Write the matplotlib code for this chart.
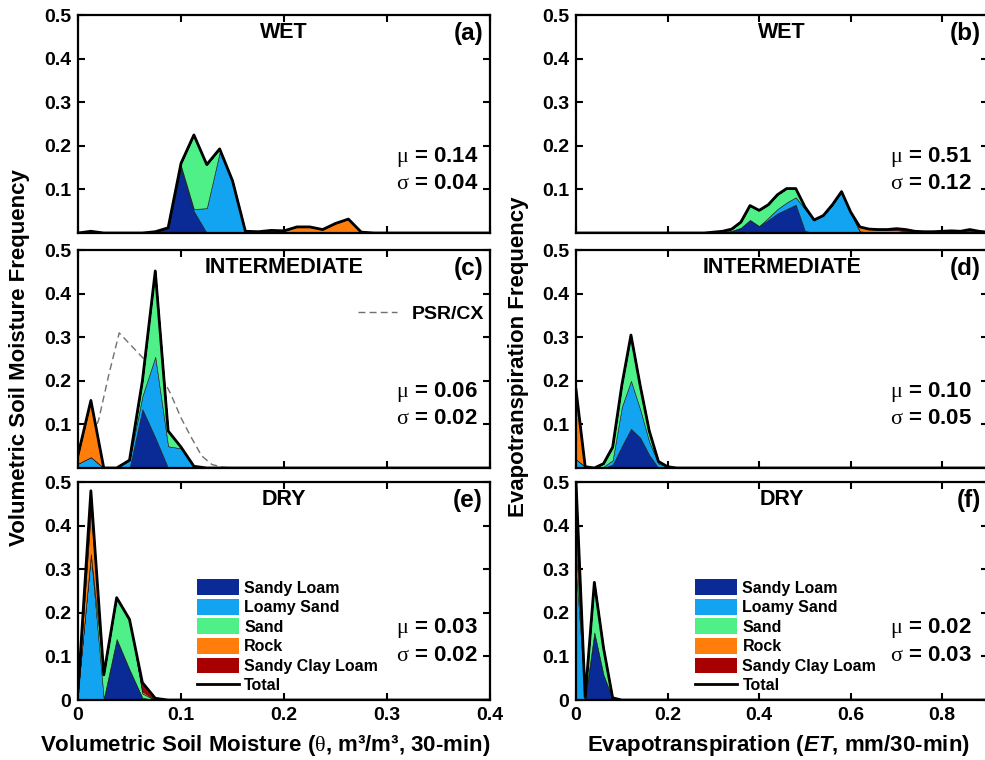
import numpy as np
import matplotlib
matplotlib.use('Agg')
import matplotlib.pyplot as plt
from matplotlib.patches import Patch
from matplotlib.lines import Line2D

plt.rcParams['font.family'] = 'Liberation Sans'
plt.rcParams['font.weight'] = 'bold'
plt.rcParams['mathtext.fontset'] = 'custom'
plt.rcParams['mathtext.rm'] = 'Liberation Serif:weight=normal'
plt.rcParams['mathtext.it'] = 'Liberation Sans:italic:bold'

soils = ['Sandy Loam', 'Loamy Sand', 'Sand', 'Rock', 'Sandy Clay Loam']
soil_colors = ['#0a2a96', '#12a4f0', '#4ef087', '#ff7d0a', '#a80000']

# soil moisture bins (0 - 0.4, step 0.0125) and ET bins (0 - 0.9, step 0.02)
theta_bins = np.round(np.arange(33) * 0.0125, 4)
et_bins = np.round(np.arange(46) * 0.02, 3)

# (a) WET, soil moisture
a_sl   = [0, 0, 0, 0, 0, 0, 0.003, 0.012, 0.15, 0.05, 0, 0, 0, 0, 0, 0, 0, 0, 0, 0, 0, 0, 0, 0, 0, 0, 0, 0, 0, 0, 0, 0, 0]
a_ls   = [0, 0, 0, 0, 0, 0, 0, 0, 0.004, 0.005, 0.057, 0.185, 0.12, 0.004, 0, 0, 0, 0, 0, 0, 0, 0, 0, 0, 0, 0, 0, 0, 0, 0, 0, 0, 0]
a_sand = [0, 0, 0, 0, 0, 0, 0, 0, 0.006, 0.17, 0.1, 0.008, 0, 0, 0, 0, 0, 0, 0, 0, 0, 0, 0, 0, 0, 0, 0, 0, 0, 0, 0, 0, 0]
a_rock = [0, 0, 0, 0, 0, 0, 0, 0, 0, 0, 0, 0, 0, 0, 0.003, 0.006, 0.005, 0.014, 0.014, 0.008, 0.022, 0.032, 0.002, 0, 0, 0, 0, 0, 0, 0, 0, 0, 0]
a_scl  = [0, 0.004, 0, 0, 0, 0, 0, 0, 0, 0, 0, 0, 0, 0, 0, 0, 0, 0, 0, 0, 0, 0, 0, 0, 0, 0, 0, 0, 0, 0, 0, 0, 0]

# (c) INTERMEDIATE, soil moisture
c_sl   = [0, 0, 0, 0, 0, 0.135, 0.07, 0, 0, 0, 0, 0, 0, 0, 0, 0, 0, 0, 0, 0, 0, 0, 0, 0, 0, 0, 0, 0, 0, 0, 0, 0, 0]
c_ls   = [0.01, 0.025, 0, 0, 0.018, 0.03, 0.185, 0.05, 0.045, 0.004, 0, 0, 0, 0, 0, 0, 0, 0, 0, 0, 0, 0, 0, 0, 0, 0, 0, 0, 0, 0, 0, 0, 0]
c_sand = [0, 0, 0, 0, 0, 0.035, 0.197, 0.035, 0.003, 0, 0, 0, 0, 0, 0, 0, 0, 0, 0, 0, 0, 0, 0, 0, 0, 0, 0, 0, 0, 0, 0, 0, 0]
c_rock = [0.02, 0.13, 0, 0, 0, 0, 0, 0, 0, 0, 0, 0, 0, 0, 0, 0, 0, 0, 0, 0, 0, 0, 0, 0, 0, 0, 0, 0, 0, 0, 0, 0, 0]
c_scl  = [0] * 33

# PSR/CX reference curve in (c)
psr_x = [0, 0.01, 0.02, 0.03, 0.04, 0.05, 0.06, 0.07, 0.08, 0.09, 0.10, 0.11, 0.12, 0.13, 0.14, 0.15]
psr_y = [0.01, 0.045, 0.11, 0.215, 0.31, 0.285, 0.26, 0.235, 0.215, 0.17, 0.115, 0.07, 0.028, 0.008, 0.002, 0.0]

# (e) DRY, soil moisture
e_sl   = [0, 0, 0, 0.14, 0.07, 0.005, 0, 0, 0, 0, 0, 0, 0, 0, 0, 0, 0, 0, 0, 0, 0, 0, 0, 0, 0, 0, 0, 0, 0, 0, 0, 0, 0]
e_ls   = [0.02, 0.335, 0.003, 0, 0, 0, 0, 0, 0, 0, 0, 0, 0, 0, 0, 0, 0, 0, 0, 0, 0, 0, 0, 0, 0, 0, 0, 0, 0, 0, 0, 0, 0]
e_sand = [0, 0, 0.055, 0.095, 0.115, 0.01, 0, 0, 0, 0, 0, 0, 0, 0, 0, 0, 0, 0, 0, 0, 0, 0, 0, 0, 0, 0, 0, 0, 0, 0, 0, 0, 0]
e_rock = [0, 0.1, 0, 0, 0, 0.005, 0, 0, 0, 0, 0, 0, 0, 0, 0, 0, 0, 0, 0, 0, 0, 0, 0, 0, 0, 0, 0, 0, 0, 0, 0, 0, 0]
e_scl  = [0, 0.045, 0, 0, 0, 0.02, 0.004, 0, 0, 0, 0, 0, 0, 0, 0, 0, 0, 0, 0, 0, 0, 0, 0, 0, 0, 0, 0, 0, 0, 0, 0, 0, 0]

# (b) WET, ET
b_sl   = [0] * 15 + [0.002, 0.003, 0.005, 0.012, 0.03, 0.016, 0.03, 0.045, 0.055, 0.065, 0.005] + [0] * 20
b_ls   = [0] * 21 + [0.005, 0.01, 0.015, 0.017, 0.05, 0.03, 0.04, 0.065, 0.095, 0.045, 0.004, 0.001] + [0] * 13
b_sand = [0] * 16 + [0.001, 0.004, 0.013, 0.033, 0.036, 0.03, 0.033, 0.032, 0.02, 0.005] + [0] * 20
b_rock = [0] * 30 + [0.003, 0.01, 0.008, 0.008, 0.007, 0.007, 0.004] + [0] * 9
b_scl  = [0] * 34 + [0.001, 0.003, 0.004, 0.004, 0.003, 0.003, 0.004, 0.005, 0.004, 0.008, 0.004, 0.002]

# (d) INTERMEDIATE, ET
d_sl   = [0, 0, 0, 0, 0.008, 0.05, 0.09, 0.07, 0.03, 0, 0] + [0] * 35
d_ls   = [0.02, 0.003, 0, 0.003, 0.01, 0.09, 0.11, 0.065, 0.03, 0.01, 0.003] + [0] * 35
d_sand = [0, 0, 0, 0.007, 0.03, 0.05, 0.105, 0.055, 0.025, 0.005, 0] + [0] * 35
d_rock = [0.15] + [0] * 45
d_scl  = [0.01] + [0] * 45

# (f) DRY, ET
f_sl   = [0, 0, 0.155, 0.058, 0.003] + [0] * 41
f_ls   = [0.3, 0.006, 0, 0, 0] + [0] * 41
f_sand = [0.05, 0, 0.115, 0.062, 0.002] + [0] * 41
f_rock = [0.05] + [0] * 45
f_scl  = [0.1] + [0] * 45

panels = [
    ('WET', '(a)', theta_bins, [a_sl, a_ls, a_sand, a_rock, a_scl], '0.14', '0.04'),
    ('WET', '(b)', et_bins, [b_sl, b_ls, b_sand, b_rock, b_scl], '0.51', '0.12'),
    ('INTERMEDIATE', '(c)', theta_bins, [c_sl, c_ls, c_sand, c_rock, c_scl], '0.06', '0.02'),
    ('INTERMEDIATE', '(d)', et_bins, [d_sl, d_ls, d_sand, d_rock, d_scl], '0.10', '0.05'),
    ('DRY', '(e)', theta_bins, [e_sl, e_ls, e_sand, e_rock, e_scl], '0.03', '0.02'),
    ('DRY', '(f)', et_bins, [f_sl, f_ls, f_sand, f_rock, f_scl], '0.02', '0.03'),
]

fig = plt.figure(figsize=(9.85, 7.6), dpi=100)

col_left = [0.0792, 0.5848]
row_bottom = [0.6934, 0.3842, 0.0789]
w, h = 0.4183, 0.2868

for k, (cond, tag, x, layers, mu, sig) in enumerate(panels):
    row, col = k // 2, k % 2
    ax = fig.add_axes([col_left[col], row_bottom[row], w, h])

    ax.stackplot(x, *layers, colors=soil_colors, edgecolor='#1a1a1a', linewidth=0.4, zorder=2)
    total = np.sum(np.array(layers), axis=0)
    ax.plot(x, total, color='k', lw=2.0, zorder=3)

    if tag == '(c)':
        ax.plot(psr_x, psr_y, color='#707070', lw=1.0, dashes=(5, 3), zorder=1)
        ax.legend(handles=[Line2D([], [], color='#707070', lw=1.0, dashes=(5, 3))],
                  labels=['PSR/CX'], loc='upper right', bbox_to_anchor=(1.01, 0.79),
                  frameon=False, handlelength=2.0, handletextpad=0.8, borderpad=0,
                  prop={'weight': 'bold', 'size': 14})

    if col == 0:
        ax.set_xlim(0, 0.4)
        ax.set_xticks([0, 0.1, 0.2, 0.3, 0.4])
        ax.set_xticklabels(['0', '0.1', '0.2', '0.3', '0.4'])
    else:
        ax.set_xlim(0, 0.9)
        ax.set_xticks([0, 0.2, 0.4, 0.6, 0.8])
        ax.set_xticklabels(['0', '0.2', '0.4', '0.6', '0.8'])
    ax.set_ylim(0, 0.5)
    if row < 2:
        ax.set_yticks([0.1, 0.2, 0.3, 0.4, 0.5])
        ax.set_yticklabels(['0.1', '0.2', '0.3', '0.4', '0.5'])
        ax.tick_params(axis='x', labelbottom=False)
    else:
        ax.set_yticks([0, 0.1, 0.2, 0.3, 0.4, 0.5])
        ax.set_yticklabels(['0', '0.1', '0.2', '0.3', '0.4', '0.5'])

    ax.tick_params(direction='in', top=True, right=True, length=5, width=1.5,
                   labelsize=14, pad=5)
    for s in ax.spines.values():
        s.set_linewidth(1.6)

    ax.text(0.5, 0.92, cond, transform=ax.transAxes, ha='center', va='center',
            fontsize=15.5, fontweight='bold')
    ax.text(0.983, 0.917, tag, transform=ax.transAxes, ha='right', va='center',
            fontsize=17.5, fontweight='bold')
    ypos = 0.33 if row == 2 else 0.35
    xr = 0.971 if col == 0 else 0.96
    ax.text(xr, ypos, r'$\mathrm{\mu}$ = ' + mu, transform=ax.transAxes, ha='right',
            va='center', fontsize=16, fontweight='bold')
    ax.text(xr, ypos - 0.125, r'$\mathrm{\sigma}$ = ' + sig, transform=ax.transAxes, ha='right',
            va='center', fontsize=16, fontweight='bold')

    if row == 2:
        handles = [Patch(facecolor=c, edgecolor='none') for c in soil_colors]
        handles.append(Line2D([], [], color='k', lw=2))
        ax.legend(handles=handles, labels=soils + ['Total'], loc='upper left',
                  bbox_to_anchor=(0.27, 0.59), frameon=False, borderpad=0,
                  handlelength=2.6, handleheight=1.15, handletextpad=0.35,
                  labelspacing=0.2, prop={'weight': 'bold', 'size': 11.5})

fig.text(0.02, 0.53, 'Volumetric Soil Moisture Frequency', rotation=90,
         ha='center', va='center', fontsize=16, fontweight='bold')
fig.text(0.526, 0.53, 'Evapotranspiration Frequency', rotation=90,
         ha='center', va='center', fontsize=16, fontweight='bold')
fig.text(265 / 985, 1 - 745 / 760, r'Volumetric Soil Moisture ($\mathrm{\theta}$, m³/m³, 30-min)',
         ha='center', va='center', fontsize=16, fontweight='bold')
fig.text(778 / 985, 1 - 745 / 760, r'Evapotranspiration ($\mathit{ET}$, mm/30-min)',
         ha='center', va='center', fontsize=16, fontweight='bold')

fig.savefig('out.png', dpi=100)
